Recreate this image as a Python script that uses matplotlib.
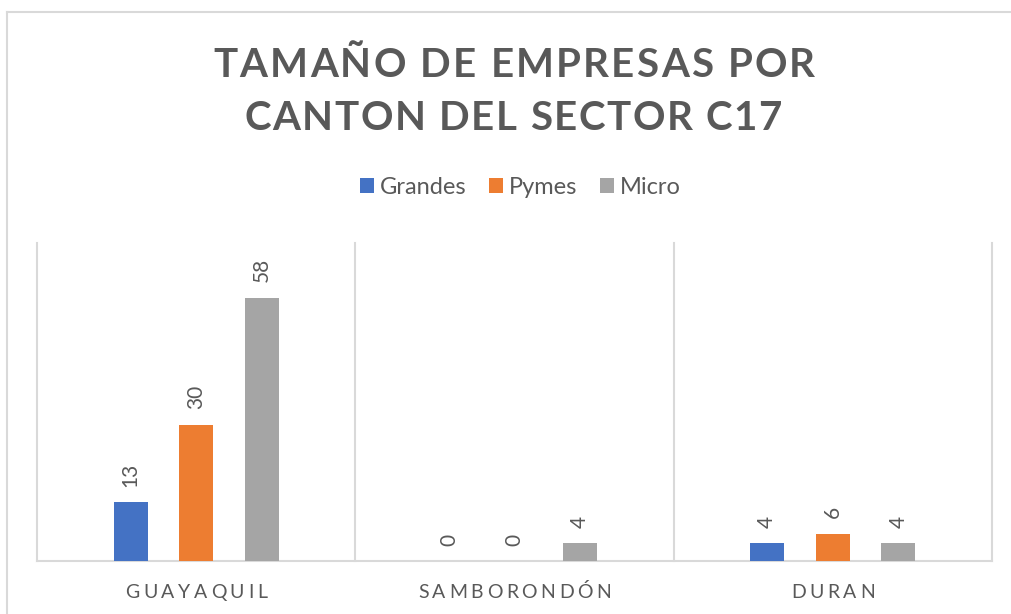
import matplotlib
matplotlib.use('Agg')
import matplotlib.pyplot as plt
from matplotlib.font_manager import FontProperties
from matplotlib.lines import Line2D
import numpy as np

# ---- data ----
categories = ['GUAYAQUIL', 'SAMBORONDÓN', 'DURAN']
series_names = ['Grandes', 'Pymes', 'Micro']
grandes = [13, 0, 4]
pymes = [30, 0, 6]
micro = [58, 4, 4]
title_lines = ['TAMAÑO DE EMPRESAS POR', 'CANTON DEL SECTOR C17']

# ---- style ----
W, H, DPI = 1011, 614, 100
FONT = 'Lato'
TXT = '#595959'
GRID = '#D9D9D9'
colors = ['#4472C4', '#ED7D31', '#A5A5A5']

fig = plt.figure(figsize=(W / DPI, H / DPI), dpi=DPI)
fig.patch.set_facecolor('white')
renderer = fig.canvas.get_renderer()


def fx(x):
    return x / W


def fy(y):
    return 1 - y / H


def char_adv(ch, prop):
    w1, _, _ = renderer.get_text_width_height_descent('H' + ch + 'H', prop, ismath=False)
    w0, _, _ = renderer.get_text_width_height_descent('HH', prop, ismath=False)
    return w1 - w0


def tracked(text, cx, base_y, size, weight, width_px=None, track=None, color=TXT):
    prop = FontProperties(family=FONT, size=size, weight=weight)
    advs = [char_adv(ch, prop) for ch in text]
    natural = sum(advs)
    if width_px is not None:
        sp = (width_px - natural) / (len(text) - 1)
    else:
        sp = track
        width_px = natural + sp * (len(text) - 1)
    x = cx - width_px / 2
    for ch, a in zip(text, advs):
        if ch != ' ':
            fig.text(fx(x + a / 2), fy(base_y), ch, ha='center', va='baseline',
                     fontproperties=prop, color=color)
        x += a + sp


# ---- border ----
fig.add_artist(Line2D([fx(7), 1.0], [fy(12), fy(12)], color=GRID, lw=1.5,
                      transform=fig.transFigure))
fig.add_artist(Line2D([fx(7), fx(7)], [fy(12), 0.0], color=GRID, lw=1.5,
                      transform=fig.transFigure))

# ---- axes ----
ax = fig.add_axes([fx(37), fy(561), (992 - 37) / W, (561 - 243) / H])
x = np.arange(len(categories))
off = 0.206
bw = 0.107
series = [grandes, pymes, micro]
for i, (vals, name, c) in enumerate(zip(series, series_names, colors)):
    pos = x + (i - 1) * off
    ax.bar(pos, vals, bw, color=c, label=name, zorder=3)
    for xi, v in zip(pos, vals):
        ax.annotate(str(v), (xi, v), xytext=(0, 11), textcoords='offset points',
                    rotation=90, ha='center', va='bottom', fontsize=15,
                    color=TXT, family=FONT)

ax.set_xlim(-0.5, len(categories) - 0.5)
ax.set_ylim(0, 70)
ax.set_xticks([])
ax.set_yticks([])
for s in ['top', 'left', 'right']:
    ax.spines[s].set_visible(False)
ax.spines['bottom'].set_color(GRID)
ax.spines['bottom'].set_linewidth(1.5)
for xb in np.arange(len(categories) + 1) - 0.5:
    ax.axvline(xb, color=GRID, lw=1.5, clip_on=False, zorder=1)

# ---- category labels ----
fig.canvas.draw()
for xi, lab in zip(x, categories):
    px_x = ax.transData.transform((xi, 0))[0]
    tracked(lab, px_x, 598, 14, 'normal', track=3.6)

# ---- title ----
tracked(title_lines[0], 514, 77, 29, 'bold', width_px=602)
tracked(title_lines[1], 513, 130, 29, 'bold', width_px=538)

# ---- legend ----
handles, labels = ax.get_legend_handles_labels()
leg = fig.legend(handles, labels, loc='center', bbox_to_anchor=(fx(520), fy(187)),
                 ncol=3, frameon=False, fontsize=17, handlelength=0.6,
                 handleheight=0.6, handletextpad=0.25, columnspacing=0.95,
                 prop={'family': FONT, 'size': 17})
for t in leg.get_texts():
    t.set_color(TXT)

fig.savefig('out.png', dpi=DPI, facecolor='white')
